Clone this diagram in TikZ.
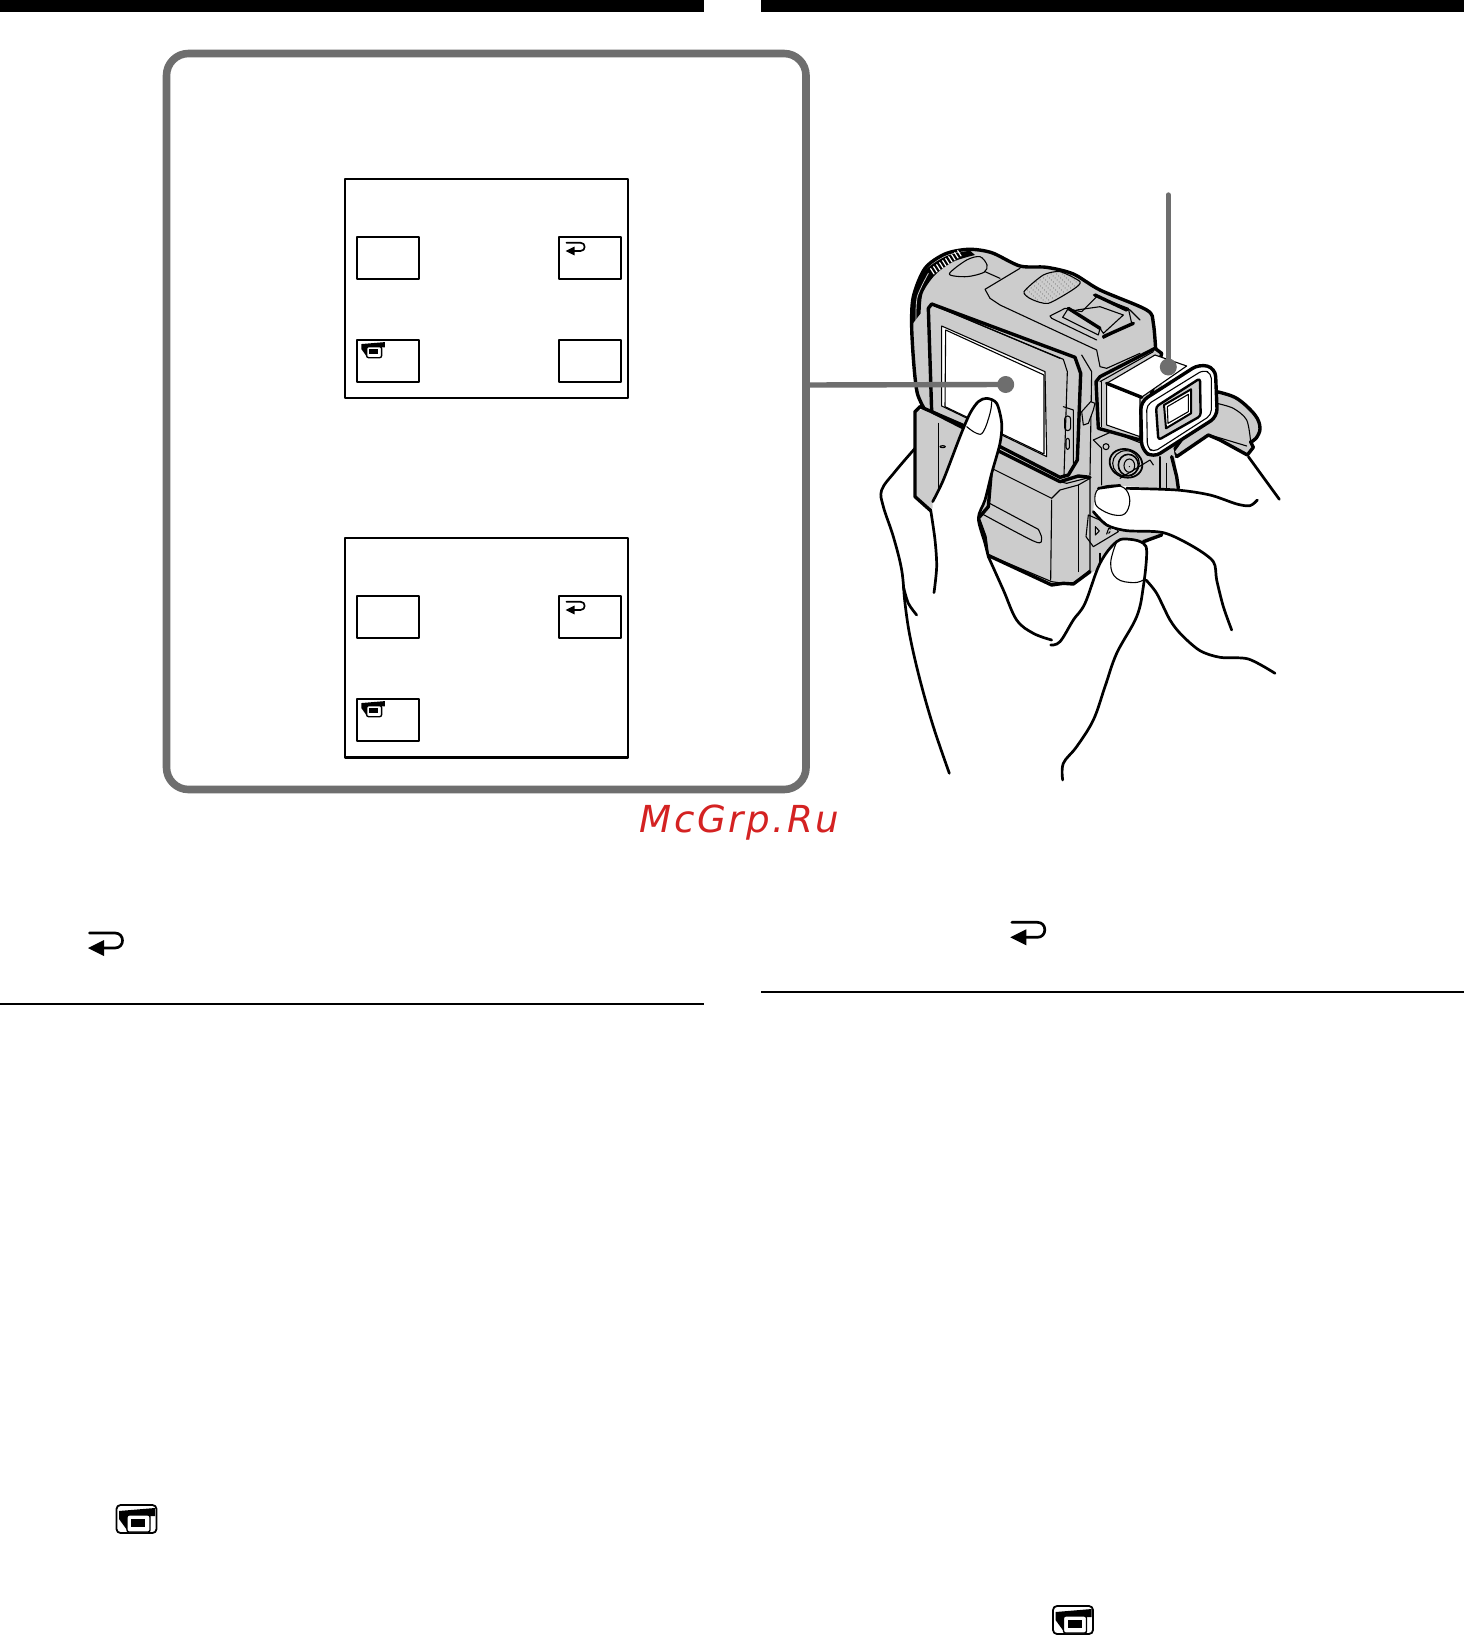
\documentclass[tikz,border=0pt]{standalone}
\usepackage{fontspec}
\newfontfamily\wmfont[LetterSpace=7]{DejaVu Sans}
\definecolor{leadgray}{HTML}{6E6E6E}
\definecolor{bodygray}{HTML}{CCCCCC}
\definecolor{wmred}{HTML}{D42222}
\tikzset{
  softkey/.style={draw,line width=1pt,minimum width=31.3pt,minimum height=21pt,inner sep=0pt},
  screenbox/.style={draw,line width=1.2pt},
  leader/.style={leadgray,line width=2.7pt},
  heavy/.style={line width=1.7pt},
  handline/.style={line width=1.35pt},
  fine/.style={line width=.55pt},
  returnsym/.pic={
    \draw[line width=#1] (1.5,-15)--(27,-15)..controls (37,-15) and (37,0)..(27,0)--(14,0);
    \fill (0,0)--(16,-8)--(16,8)--cycle;
  },
  camsym/.pic={
    \fill (3,7)--(39,4)--(39,12)--(34,12)--(34,20)--(11,26)--(3,15)--cycle;
    \fill[white,rounded corners=1] (11,11) rectangle (34,28);
    \draw[line width=.7pt,rounded corners=1] (11,11) rectangle (34,28);
    \fill (15,15) rectangle (29,23);
  }
}
\begin{document}
\begin{tikzpicture}[x=.5pt,y=-.5pt,line cap=round,line join=round]
\useasboundingbox (0,0) rectangle (1464,1637);
\fill[white] (0,0) rectangle (1464,1637);
%top bars and rules
\fill (0,0) rectangle (704,12);
\fill (761,0) rectangle (1464,12);
\draw[line width=1pt,line cap=butt] (0,1004)--(704,1004);
\draw[line width=1pt,line cap=butt] (761,992)--(1464,992);
%frame
\draw[leadgray,line width=3.8pt,rounded corners=11pt] (166.5,53.5) rectangle (806,789.5);
\draw[screenbox] (345,179) rectangle (628,398);
\draw[screenbox] (345,538) rectangle (628,757.5);
\node[softkey] (keyA) at (388,257.7) {};
\node[softkey] (keyB) at (590,257.7) {};
\node[softkey] (keyC) at (388,360.7) {};
\node[softkey] (keyD) at (590,360.7) {};
\node[softkey] (keyE) at (388,616.7) {};
\node[softkey] (keyF) at (590,616.7) {};
\node[softkey] (keyG) at (388,719.7) {};
\pic[scale=.55] at (565.7,251) {returnsym=.85pt};
\pic[scale=.55] at (565.7,610) {returnsym=.85pt};
\pic[scale=.65] at (359.5,339.5) {camsym};
\pic[scale=.65] at (359.5,698.5) {camsym};
%body icons
\pic at (88,948) {returnsym=1.35pt};
\pic at (1010.3,937.3) {returnsym=1.35pt};
\draw[line width=.9pt,rounded corners=2pt] (116.5,1505) rectangle (156.5,1533);
\pic at (116,1504) {camsym};
\draw[line width=.9pt,rounded corners=2pt] (1053,1606) rectangle (1093,1634);
\pic at (1052.5,1605) {camsym};
%camera
\begin{scope}[shift={(860,180)},scale=1/3]
%strap
\begin{scope}[shift={(690,480)}]
\draw[heavy,fill=bodygray] plot[smooth,tension=.6] coordinates {(380,155) (440,175) (495,225) (510,265) (498,295) (482,306)}
  --(490,322)--(472,345)--(390,300)--(355,285)--(260,350)--(248,335)--cycle;
\draw[fine] plot[smooth] coordinates {(380,190) (430,205) (470,240) (482,306)};
\draw[fine] (360,285)--(470,318);
\end{scope}
%gray body
\fill[bodygray] plot[smooth,tension=.5] coordinates {(190,690) (172,640) (162,560) (155,430) (160,350) (190,270) (250,225) (320,210) (385,218) (480,262) (560,262) (640,282) (720,330) (860,390) (880,430) (888,520)}
  --(945,830)--(955,925)--(905,1060)--(850,1095)--(700,1175)--(640,1215)--(575,1215)--(385,1125)--(375,1080)--(355,1015)--(385,870)--(210,990)--(165,950)--(165,690)--cycle;
%outline
\draw[heavy] plot[smooth,tension=.5] coordinates {(192,685) (172,640) (162,560) (155,440) (160,350) (195,265) (255,222) (325,208) (395,218) (480,258) (560,262) (640,282) (720,330) (860,390) (880,430) (888,525)};
\fill plot[smooth] coordinates {(155,435) (160,350) (195,272) (260,228) (330,212)} -- plot[smooth] coordinates {(345,225) (280,245) (225,285) (188,340) (182,400)} --cycle;
\draw[bodygray,line width=.4pt] plot[smooth] coordinates {(168,420) (172,350) (205,280)};
\foreach \i in {0,1,...,9}
\draw[white,line width=.6pt] (222+\i*9,282-\i*6)--(212+\i*9,266-\i*6);
\draw[fine,fill=bodygray] plot[smooth cycle] coordinates {(268,282) (320,240) (360,230) (381,255) (372,277) (320,290)};
\draw[fine] (375,275)--(420,295);
%top plate
\begin{scope}[shift={(120,180)}]
\draw[fine] (360,85)--(255,148)--(270,175)--(300,195)--(590,330)--(600,380)--(620,385)--(720,340);
\draw[fine] (590,300)--(455,235)--(450,228)--(495,205)--(545,215)--(590,170)--(690,210)--(720,240);
\draw[fine,fill=bodygray] (488,232)--(505,205)--(600,265)--(595,285)--cycle;
\draw[heavy] (505,205)--(600,265);
\draw[fine] (530,210)--(600,200)--(670,225)--(610,280)--(600,265);
\draw[fine] (580,165)--(685,205)--(695,250)--(610,295);
\draw[heavy] (585,165)--(680,210);
\draw[heavy] (610,290)--(700,250);
%mic
\draw[fine,fill=bodygray] plot[smooth cycle,tension=.4] coordinates {(372,155) (430,105) (480,95) (540,125) (520,148) (445,190) (395,178)};
\begin{scope}
\clip plot[smooth cycle,tension=.4] coordinates {(376,155) (430,108) (480,98) (536,125) (518,145) (445,186) (395,175)};
\foreach \i in {0,1,...,15}
\foreach \j in {0,1,...,10}
\fill[black!65] (365+11*\i+6*\j,150-6*\i+6*\j) circle (1.5);
\end{scope}
\end{scope}
%lcd panel
\draw[heavy,fill=bodygray] (205,385)--(215,372)--(645,532)--(662,580)--(652,840)--(625,885)--(600,892)--(215,695)--cycle;
\draw[fine] (225,378)--(610,538)--(622,575)--(612,885);
\draw[fine] (245,385)--(600,535);
\draw[fine] (665,525)--(695,575)--(690,885);
\draw[fine,fill=white] (245,438)--(555,575)--(560,830)--(245,678)--cycle;
\draw[fine,fill=white] (257,450)--(552,585)--(552,822)--(255,680)--cycle;
\draw[fine,rounded corners=1.5pt] (614,708) rectangle (632,752);
\draw[fine,rounded corners=1pt] (618,775) rectangle (628,808);
\draw[fine] (610,680)--(640,690)--(640,850);
%door
\draw[heavy] (180,680)--(165,695)--(165,950)--(212,992);
\draw[fine] (235,730)--(235,935);
\draw[heavy] (180,680)--(330,745);
\draw[fine] (248,800) circle (8 and 3);
%mechanism
\begin{scope}[shift={(600,660)}]
\draw[heavy] (335,170)--(350,230)--(355,265);
\draw[fine] (100,120)--(155,95)--(245,130);
\draw[fine] (100,120)--(125,145)--(125,255);
\draw[fine,fill=bodygray] (65,35)--(92,5)--(105,10)--(100,30)--(85,70)--(70,75)--cycle;
\draw[line width=.9pt,fill=bodygray,rotate around={-20:(198,190)}] (198,190) ellipse (50 and 42);
\draw[fine] (198,190) ellipse (40 and 38);
\draw[line width=.8pt] (205,195) ellipse (30 and 32);
\draw[fine] (208,197) ellipse (16 and 20);
\fill (208,200) circle (2);
\draw[fine] (138,140) circle (9);
\draw[fine] (180,235)--(270,180)--(280,195);
\draw[fine] (300,170)--(300,265);
\draw[fine] (320,190)--(320,265);
\draw[fine,fill=bodygray] (85,345)--(78,410)--(100,440)--(175,395)--(165,380)--cycle;
\draw[fine] (106,380)--(118,393)--(106,405)--cycle;
\draw[fine] (140,402)--(146,385)--(152,387)(146,400)--(150,395);
\end{scope}
%battery
\begin{scope}[shift={(0,780)}]
\draw[fine] (395,85)--(575,175)--(600,150)--(655,135)--(690,115)--(690,390)--(640,430)--(610,430)--(575,425)--(385,345);
\draw[heavy] (410,30)--(600,125)--(655,108)--(690,112);
\draw[heavy] (410,30)--(395,80)--(385,200)--(355,235)--(375,290)--(382,345)--(575,435)--(610,430)--(640,432)--(690,395);
\draw[fine] (600,125)--(620,130)--(690,112);
\draw[fine] (575,180)--(572,420);
\draw[fine] (655,135)--(655,395);
\draw[fine] plot[smooth] coordinates {(367,222) (525,305) (545,295) (535,268)}--(385,188);
\draw[heavy] (850,305)--(905,285);
\draw[fine] (720,340)--(720,370);
\end{scope}
%right hand
\begin{scope}[shift={(0,780)}]
\fill[white] plot[smooth,tension=.5] coordinates {(700,210) (715,145) (780,138) (950,150) (1050,165) (1130,195) (1170,198) (1192,180)}
  --(1150,300)--(1060,365)--(1000,320)--(910,278)--(760,270)--cycle;
\draw[handline] plot[smooth,tension=.5] coordinates {(800,145) (950,150) (1050,165) (1130,192) (1170,197) (1192,180)};
\draw[handline] plot[smooth,tension=.5] coordinates {(700,215) (740,255) (800,272) (910,278) (1000,320) (1060,365) (1070,420) (1090,500) (1115,570)};
\draw[fine,fill=white] plot[smooth cycle,tension=.7] coordinates {(705,185) (718,145) (780,138) (808,170) (800,215) (770,226) (725,210)};
\draw[handline] (715,145)--(780,136);
\draw[handline] plot[smooth,tension=.5] coordinates {(858,420) (890,460) (930,540) (965,585) (1020,632) (1080,652) (1165,657) (1245,700)};
\draw[handline] (1165,50)--(1258,178);
\end{scope}
%left hand
\begin{scope}[shift={(0,780)}]
\fill[white] plot[smooth,tension=.5] coordinates {(218,185) (250,120) (300,-10) (330,-80) (355,-115) (380,-125) (410,-110) (425,-50) (420,10) (395,100) (375,180) (355,235) (375,310) (385,350) (430,450) (470,540) (520,580) (575,603) (600,605) (640,540) (675,490) (720,370) (770,305) (810,298) (850,310) (860,340)}
  --(850,440)--(600,1000)--(268,1000)--(218,460)--cycle;
\draw[handline] plot[smooth,tension=.5] coordinates {(218,185) (250,120) (300,-10) (330,-80) (355,-115) (380,-125) (410,-110) (425,-50) (420,10) (395,100) (375,180) (355,235) (375,310) (385,350)};
\draw[handline] plot[smooth,tension=.6] coordinates {(385,350) (430,450) (470,540) (520,580) (575,600)};
\draw[handline] plot[smooth,tension=.6] coordinates {(572,615) (600,605) (640,540) (675,490) (720,370) (770,305) (810,298) (850,310) (860,340) (850,440) (830,530) (770,640) (735,740) (700,840) (650,920) (610,970) (608,1020)};
\draw[fine] plot[smooth,tension=.7] coordinates {(770,305) (752,370) (770,415) (820,428) (850,420)};
\draw[fine] plot[smooth,tension=.7] coordinates {(320,-40) (350,-20) (370,-25) (390,-80) (395,-115)};
\draw[handline] plot[smooth,tension=.6] coordinates {(165,25) (105,95) (65,150) (70,200) (100,290) (125,390) (135,490) (150,590) (180,720) (220,860) (268,1000)};
\draw[handline] plot[smooth] coordinates {(130,440) (145,490) (170,525)};
\draw[handline] plot[smooth] coordinates {(212,210) (225,300) (230,380) (222,458)};
\end{scope}
%eyepiece
\begin{scope}[shift={(690,480)}]
\draw[heavy,fill=bodygray] (18,125)--(30,110)--(195,25)--(215,40)--(150,300)--(25,265)--cycle;
\draw[fine] (30,125)--(190,35);
\draw[fine] (35,125)--(35,260);
\draw[fine,fill=white] (50,130)--(195,45)--(290,78)--(150,175)--(150,290)--(50,255)--cycle;
\draw[heavy] (50,130)--(155,172);
\draw[heavy,fill=white,rounded corners=4pt] (152,185)--(328,72)--(376,85)--(382,230)--(190,353)--(155,330)--cycle;
\draw[fine,rounded corners=2.5pt] (170,195)--(340,90)--(364,100)--(364,225)--(190,337)--(172,322)--cycle;
\draw[line width=1.2pt,fill=bodygray,rounded corners=1.5pt] (198,200)--(330,115)--(332,228)--(205,300)--cycle;
\draw[line width=1pt,fill=white] (222,195)--(303,148)--(303,220)--(228,265)--cycle;
\draw[fine] (232,200)--(295,163)--(295,215)--(234,250)--cycle;
\end{scope}
\end{scope}
%leaders
\coordinate (frameedge) at (806,385);
\coordinate (screendot) at (1005.7,384.5);
\coordinate (topend) at (1168.3,195);
\coordinate (finderdot) at (1168.3,367);
\draw[leader] (frameedge)--(screendot);
\draw[leader] (topend)--(finderdot);
\fill[leadgray] (screendot) circle (8.5);
\fill[leadgray] (finderdot) circle (8.5);
%watermark
\node[anchor=base west,inner sep=0pt,text=wmred] (wmark) at (639,832) {\fontsize{18.6pt}{20pt}\wmfont\itshape McGrp.Ru};
\end{tikzpicture}
\end{document}
